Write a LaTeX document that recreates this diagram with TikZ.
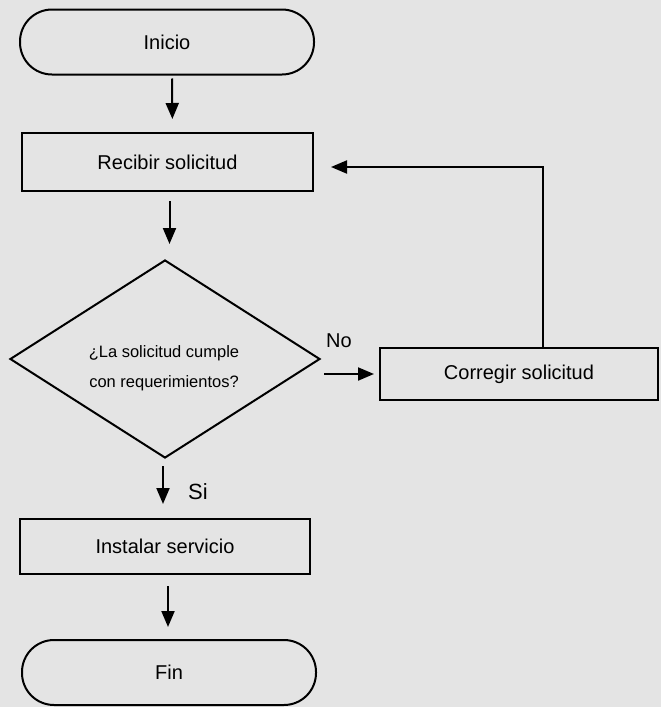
\documentclass[tikz,border=0pt]{standalone}
\usepackage{fontspec}
\setmainfont{Liberation Sans}
\usetikzlibrary{arrows.meta, shapes.geometric}
\definecolor{paper}{RGB}{228,228,228}
\tikzset{
	terminal/.style={
		draw,
		line width=2pt,
		rectangle,
		rounded corners=32pt,
		minimum width=294pt,
		minimum height=65pt,
		font=\fontsize{20}{24}\selectfont
	},
	process/.style={
		draw,
		line width=2pt,
		rectangle,
		inner sep=0pt,
		font=\fontsize{20}{24}\selectfont
	},
	decision/.style={
		draw,
		line width=2pt,
		diamond,
		aspect=1.57,
		inner sep=0pt,
		minimum width=310pt,
		minimum height=198pt
	},
	flow/.style={-{Triangle[length=16pt,width=13pt]}, line width=2pt}
}

\begin{document}
\begin{tikzpicture}[x=1pt,y=-1pt]
	\fill[paper] (0,0) rectangle (661,707);
	\useasboundingbox (0,0) rectangle (661,707);
	
	\node(inicio) at (167,42) [terminal] {Inicio};
	\node(recibir) at (167.5,162) [process,minimum width=291pt,minimum height=58pt] {Recibir solicitud};
	\node(cumple) at (165,359) [decision] {};
	\node(cumple_txt) at (164,368) [align=center,font=\fontsize{16.5}{30}\selectfont] {¿La solicitud cumple\\con requerimientos?};
	\node(corregir) at (519,374) [process,minimum width=278pt,minimum height=52pt] {Corregir solicitud};
	\node(instalar) at (165,546.5) [process,minimum width=290pt,minimum height=55pt] {Instalar servicio};
	\node(fin) at (169,672.5) [terminal] {Fin};
	
	\node(no) at (339,341) [font=\fontsize{20}{24}\selectfont] {No};
	\node(si) at (198,492) [font=\fontsize{22}{26}\selectfont] {Si};
	
	\draw[flow, shorten <=3pt, shorten >=13pt] ([xshift=5pt]inicio.south) -- ([xshift=5pt]recibir.north);
	\draw[flow, shorten <=9pt, shorten >=15pt] ([xshift=2pt]recibir.south) -- ([xshift=2pt]recibir.south |- cumple.north);
	\draw[flow, shorten <=7pt, shorten >=14pt] ([xshift=-2pt]cumple.south) -- ([xshift=-2pt]cumple.south |- instalar.north);
	\draw[flow, shorten <=11pt, shorten >=12pt] ([xshift=3pt]instalar.south) -- ([xshift=3pt]instalar.south |- fin.north);
	
	\draw[flow, shorten <=3pt, shorten >=5pt] (cumple.east |- corregir.west) -- (corregir.west);
	\draw[flow, shorten >=17pt] ([xshift=24pt]corregir.north) |- ([yshift=-5pt]recibir.east);
\end{tikzpicture}
\end{document}
